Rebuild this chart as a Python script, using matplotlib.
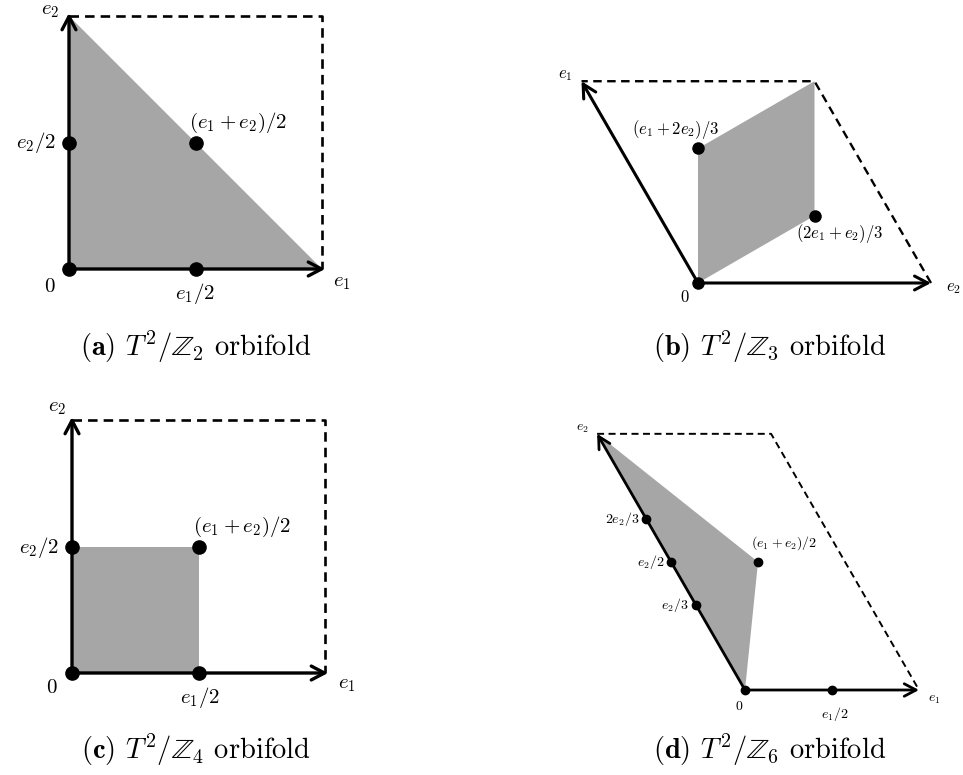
"""
Fundamental domains of T^2/Z_N orbifolds (2x2 panel figure).
"""
import numpy as np
import matplotlib
matplotlib.use('Agg')
import matplotlib.pyplot as plt

plt.rcParams.update({
    'font.family': 'serif',
    'font.serif': ['cmr10'],
    'mathtext.fontset': 'cm',
    'axes.unicode_minus': False,
    'figure.dpi': 100,
})

W, H = 963, 775
GREY = '#a6a6a6'

# ---- data: basis (length, angle deg), shaded region and fixed points in (e1, e2) coords
a_basis = [(1.0, 0.0), (1.0, 90.0)]
a_region = [(0, 0), (1, 0), (0, 1)]
a_points = [(0, 0), (0.5, 0), (0, 0.5), (0.5, 0.5)]
a_labels = ['$0$', '$e_1/2$', '$e_2/2$', '$(e_1+e_2)/2$']

b_basis = [(1.0, 120.0), (1.0, 0.0)]
b_region = [(0, 0), (2/3, 1/3), (1, 1), (1/3, 2/3)]
b_points = [(0, 0), (2/3, 1/3), (1/3, 2/3)]
b_labels = ['$0$', '$(e_1+2e_2)/3$', '$(2e_1+e_2)/3$']

c_basis = [(1.0, 0.0), (1.0, 90.0)]
c_region = [(0, 0), (0.5, 0), (0.5, 0.5), (0, 0.5)]
c_points = [(0, 0), (0.5, 0), (0, 0.5), (0.5, 0.5)]
c_labels = ['$0$', '$e_1/2$', '$e_2/2$', '$(e_1+e_2)/2$']

d_basis = [(1.0, 0.0), (1.7, 120.0)]
d_region = [(0, 0), (0.5, 0.5), (0, 1)]
d_points = [(0, 0), (0.5, 0), (0, 2/3), (0, 1/2), (0, 1/3), (0.5, 0.5)]
d_labels = ['$0$', '$e_1/2$', '$2e_2/3$', '$e_2/2$', '$e_2/3$', '$(e_1+e_2)/2$']

captions = [r'$\mathbf{(a)}$ $T^2/\mathbb{Z}_2$ orbifold',
            r'$\mathbf{(b)}$ $T^2/\mathbb{Z}_3$ orbifold',
            r'$\mathbf{(c)}$ $T^2/\mathbb{Z}_4$ orbifold',
            r'$\mathbf{(d)}$ $T^2/\mathbb{Z}_6$ orbifold']

fig = plt.figure(figsize=(W / 100, H / 100))


def basis_vectors(basis):
    return [np.array([L * np.cos(np.radians(t)), L * np.sin(np.radians(t))]) for L, t in basis]


def to_xy(uv, e1, e2):
    uv = np.atleast_2d(uv)
    return uv[:, :1] * e1 + uv[:, 1:2] * e2


def draw_panel(origin, scale, basis, region, points, labels, offsets, tip_off,
               fs, ms, lw, dlw, head, over=1.0):
    ox, oy = origin
    ax = fig.add_axes([0, 0, 1, 1])
    ax.set_xlim(-ox / scale, (W - ox) / scale)
    ax.set_ylim(-(H - oy) / scale, oy / scale)
    ax.axis('off')
    ax.patch.set_visible(False)
    e1, e2 = basis_vectors(basis)

    poly = to_xy(region, e1, e2)
    ax.fill(poly[:, 0], poly[:, 1], color=GREY, lw=0, zorder=1)

    far = e1 + e2
    ax.plot([e2[0], far[0], e1[0]], [e2[1], far[1], e1[1]], color='k', lw=dlw,
            ls=(0, (3.6, 2.3)), zorder=2)

    for v in (e1, e2):
        ax.annotate('', xy=v * over, xytext=(0, 0),
                    arrowprops=dict(arrowstyle=f'->,head_length={head[0]},head_width={head[1]}',
                                    lw=lw, color='k', shrinkA=0, shrinkB=0,
                                    mutation_scale=10), zorder=3)

    pts = to_xy(points, e1, e2)
    ax.plot(pts[:, 0], pts[:, 1], 'o', color='k', ms=ms, zorder=4)
    for p, lab, (dx, dy, ha) in zip(pts, labels, offsets):
        ax.annotate(lab, xy=p, xytext=(dx, dy), textcoords='offset pixels',
                    ha=ha, va='center', fontsize=fs)
    for v, lab, (dx, dy) in zip((e1, e2), ('$e_1$', '$e_2$'), tip_off):
        ax.annotate(lab, xy=v, xytext=(dx, dy), textcoords='offset pixels',
                    ha='center', va='center', fontsize=fs)


draw_panel((69, 269), 253, a_basis, a_region, a_points, a_labels,
           [(-19, -18, 'center'), (0, -24, 'center'), (-13, 0, 'right'), (43, 20, 'center')],
           [(20, -14), (-19, 5)], fs=15, ms=9.5, lw=2.4, dlw=1.9, head=(0.95, 0.5),
           over=1.012)

draw_panel((698, 283), 233, b_basis, b_region, b_points, b_labels,
           [(-13, -14, 'center'), (-22, 19, 'center'), (25, -18, 'center')],
           [(-16, 6), (22, -5)], fs=12, ms=8, lw=2.2, dlw=1.7, head=(0.95, 0.5))

draw_panel((72, 673), 253, c_basis, c_region, c_points, c_labels,
           [(-20, -15, 'center'), (2, -24, 'center'), (-13, -1, 'right'), (44, 20, 'center')],
           [(22, -12), (-15, 12)], fs=15, ms=9.5, lw=2.4, dlw=1.9, head=(0.95, 0.5),
           over=1.012)

draw_panel((745, 690), 174, d_basis, d_region, d_points, d_labels,
           [(-6, -16, 'center'), (3, -24, 'center'), (-7, 0, 'right'), (-7, 0, 'right'),
            (-7, 0, 'right'), (26, 19, 'center')],
           [(15, -10), (-15, 5)], fs=10, ms=6, lw=2.0, dlw=1.4, head=(0.85, 0.45))

for (cx, cy), cap in zip([(196, 347), (770, 347), (196, 750), (770, 750)], captions):
    fig.text(cx / W, 1 - cy / H, cap, ha='center', va='center', fontsize=20.5)

fig.savefig('out.png', dpi=100)
